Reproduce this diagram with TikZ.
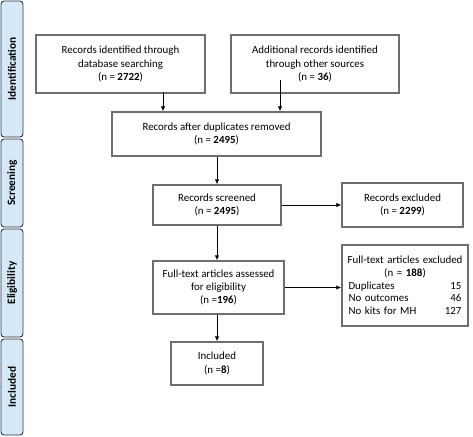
\documentclass[tikz,border=0pt]{standalone}
\usepackage{fontspec}
\setmainfont{Carlito}
\usetikzlibrary{arrows.meta}
\definecolor{barfill}{HTML}{D4E8F8}
\definecolor{barline}{HTML}{2E3440}
\definecolor{boxline}{HTML}{6E6E6E}
\tikzset{
  box/.style={draw=boxline, line width=1.3pt, fill=white, align=center, inner sep=2pt,
    font=\fontsize{10.9}{13.2}\selectfont},
  bar/.style={draw=barline, line width=0.9pt, fill=barfill, rounded corners=3pt},
  barlabel/.style={rotate=90, font=\fontsize{11.3}{13}\selectfont\bfseries},
  arr/.style={line width=1pt, -{Latex[length=5pt,width=4.5pt]}}
}
\begin{document}
\begin{tikzpicture}[x=1pt,y=-1pt]
\useasboundingbox (0,0) rectangle (473,436);
% side bars
\draw[bar] (1,1) rectangle (23,137);
\draw[bar] (1,139) rectangle (23,227);
\draw[bar] (1,229) rectangle (23,337);
\draw[bar] (1,339) rectangle (23,435);
\node[barlabel] (lid) at (12,69) {Identification};
\node[barlabel] (lsc) at (12,183) {Screening};
\node[barlabel] (lel) at (12,283) {Eligibility};
\node[barlabel] (lin) at (12,387) {Included};
% boxes
\node[box, minimum width=169pt, minimum height=58pt] (b1) at (120.5,64)
  {Records identified through\\database searching\\(n = \textbf{2722})};
\node[box, minimum width=168pt, minimum height=58pt] (b2) at (315,64)
  {Additional records identified\\through other sources\\(n = \textbf{36})};
\node[box, minimum width=209pt, minimum height=44pt] (b3) at (216.5,134)
  {Records after duplicates removed\\(n = \textbf{2495})};
\node[box, minimum width=128pt, minimum height=40pt] (b4) at (217,205)
  {Records screened\\(n = \textbf{2495})};
\node[box, minimum width=121pt, minimum height=44pt] (b5) at (402.5,205)
  {Records excluded\\(n = \textbf{2299})};
\node[box, minimum width=131pt, minimum height=53pt] (b6) at (218.5,287.5)
  {Full-text articles assessed\\for eligibility\\(n =\textbf{196})};
\node[box, minimum width=92pt, minimum height=43pt] (b7) at (217,363.5)
  {Included\\(n =\textbf{8})};
\node[box, minimum width=126pt, minimum height=81pt, text width=113pt, align=left,
  font=\fontsize{10.9}{12.7}\selectfont] (b8) at (405,285.5)
  {\makebox[\linewidth][c]{Full-text articles excluded}\\
   \makebox[\linewidth][c]{(n = \textbf{188})}\\
   Duplicates\hfill 15\\
   No outcomes\hfill 46\\
   No kits for MH\hfill 127};
% connectors
\coordinate (a2) at (280,80);
\draw[arr] (b3.north -| 163,0) ++(0,-19) -- (b3.north -| 163,0);
\draw[arr] (a2) -- (a2 |- b3.north);
\draw[arr] (b4.north |- b3.south) -- (b4.north);
\draw[arr] (b4.east) -- (b5.west);
\draw[arr] (b4.south) -- (b4.south |- b6.north);
\draw[arr] (b6.east) -- (b6.east -| b8.west);
\draw[arr] (b7.north |- b6.south) -- (b7.north);
\end{tikzpicture}
\end{document}
